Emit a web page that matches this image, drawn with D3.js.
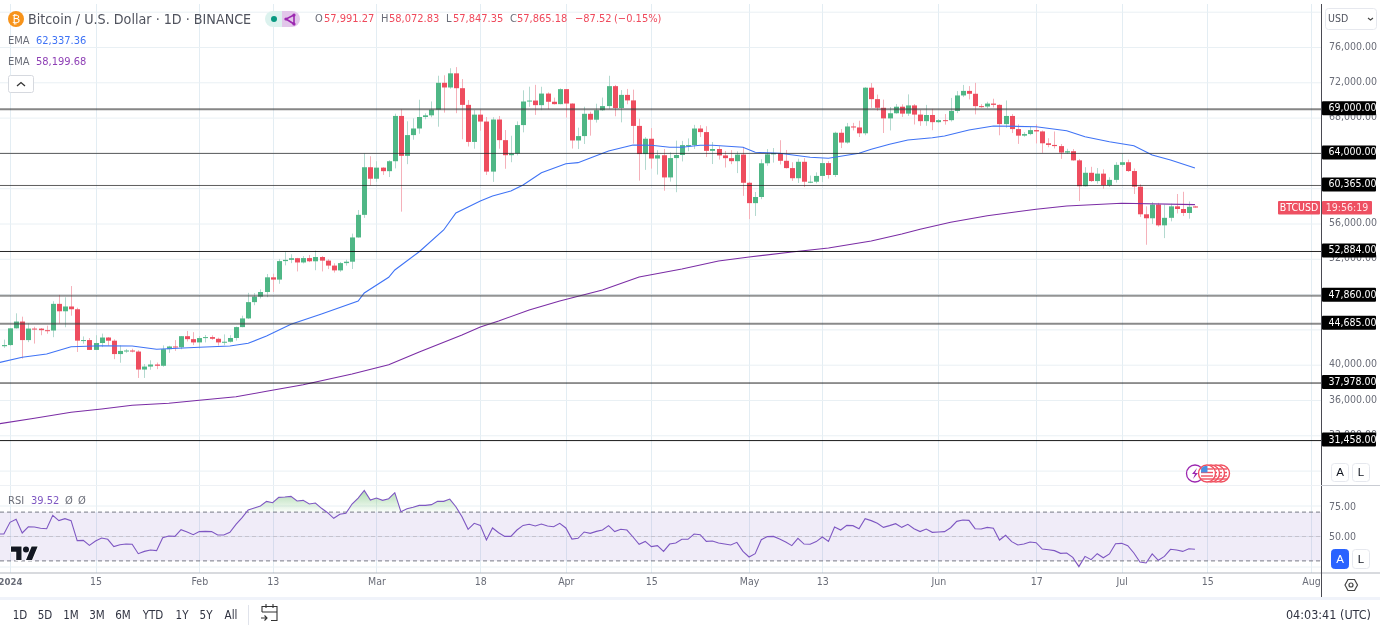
<!DOCTYPE html>
<html><head><meta charset="utf-8">
<script src="https://cdn.jsdelivr.net/npm/d3@7/dist/d3.min.js"></script>
<style>
html,body{margin:0;padding:0;background:#fff;overflow:hidden}
svg{display:block;filter:blur(.3px)}
text{font-family:"DejaVu Sans Condensed","DejaVu Sans",sans-serif;font-size:10.5px;fill:#50535e}
</style></head><body><svg id="c" width="1380" height="625"></svg>
<script>
// ---------- data (Dec 31 2023 -> Jul 13 2024, daily) ----------
const firstDay = "2023-12-31";
const opens = [42152,
42283,44179,44946,42845,44151,44145,43968,43929,46951,46110,46653,46339,42782,42847,41732,42511,43137,42776,41262,41618,41665,41545,39507,39845,40077,39934,41816,42120,42035,43288,42952,
42582,43075,43185,42992,42583,42658,43084,44318,45301,47147,47771,48293,49958,49699,51795,51938,52124,51642,52137,51774,52258,51849,51288,50744,51568,51728,54476,57037,62432,
61130,62387,61987,63113,68245,63724,66074,66823,68124,68313,68955,72000,71470,73072,71388,69499,65300,68393,67609,61937,67840,65501,63796,63990,67209,69880,69988,69469,70780,69850,69582,
71280,69649,65463,65963,68487,67820,68896,69360,71620,69146,70631,70006,67116,63924,65661,63419,63793,61277,63470,63818,64940,64941,66819,66414,64289,64498,63770,63461,63118,63866,
60672,58364,59060,62882,63892,64038,63161,62334,61187,63049,60792,60793,61448,62901,61552,66339,65231,67051,66940,66278,71446,70148,69166,67969,68549,69290,68507,69436,68398,67652,68352,
67540,67766,67765,68809,70567,71082,70757,69355,69310,69648,69500,67321,68243,66756,66011,66191,66639,66490,65146,64960,64828,64096,64245,63210,60277,61804,60864,61707,60400,61000,
62700,63000,62000,60230,57100,56650,58200,55850,56700,58000,57700,57250,57991.27];
const highs = [42899,
44184,45879,45500,44729,44357,44214,44486,47248,47972,47695,48969,46515,43257,43079,43400,43578,43198,42930,42249,41840,41870,41689,40129,40555,40300,42246,42200,42842,43305,43882,43745,
43285,43422,43381,43119,43494,43399,44380,45614,48200,48170,48592,50334,50368,52043,52816,52572,52163,52364,52488,52985,52366,52016,51548,51698,51950,54910,57588,64000,63676,
63114,62433,63231,68499,69000,67641,67980,70083,68541,69887,72800,72850,73650,73777,72419,70043,68904,68956,68124,68100,68240,66649,65999,67628,71150,71561,71769,71552,70916,70321,71366,
71288,69674,66914,69291,68725,69629,70326,72797,71758,71172,71305,71227,67931,65840,66867,64365,64499,64117,65450,65419,65700,67233,67199,67075,65297,64820,64279,64370,64228,64734,
60780,59625,63333,64494,64610,65494,64390,62995,63404,63469,61490,61850,63450,63118,66454,66752,67451,67459,67700,71515,71979,70666,70096,69250,69591,69562,70687,69591,68935,69500,69044,
67900,68460,70288,71063,71758,71625,71997,69582,69850,70195,69559,69999,68449,67294,66402,66998,67298,66600,65722,66482,65066,64526,64500,63369,62435,62480,62340,62200,61300,63000,
64000,63300,62300,60500,58000,58500,58400,58200,58300,59400,59650,58550,58072.83];
const lows = [41965,
42180,44148,40750,42613,42450,43397,43565,43175,44748,44300,45606,41500,42436,41720,41718,42050,42200,40683,40280,41400,41446,38555,38555,39484,39550,39825,41394,41620,41804,42683,42276,
41884,42584,42880,42222,42258,42574,42788,44300,45242,46800,47557,47710,48300,49225,51314,51566,50625,51529,51677,50760,50625,50888,50500,50585,51282,50901,54450,56691,60364,
60777,61561,61320,62300,57400,62779,65551,66230,67861,68094,67024,68620,71333,68555,65600,64780,64533,66565,61555,60775,64529,62260,63000,63772,66385,69280,68359,68903,69009,69540,69562,
68062,64550,64493,65064,66011,67491,68824,69043,68210,67518,69567,65104,60919,62134,62274,61600,59768,60803,59600,63090,64241,64500,65852,63589,62794,63297,62400,62781,61765,59191,
56552,56911,58811,62599,62955,62746,62285,60888,60648,60187,60630,60610,60749,61142,61320,64602,65106,66600,65857,66060,69162,68832,66312,66600,68495,68128,68250,67278,67124,67128,66630,
67428,67257,67612,68567,70383,70119,68420,69168,69102,69207,66051,66902,66304,65078,65886,66060,65130,64060,64693,64559,63379,63929,63178,58600,60239,60765,60566,60000,60200,60700,
62500,61900,59400,56800,53650,56000,55700,54400,56300,57200,56900,56600,57847.35];
const closes = [42283,
44179,44946,42845,44151,44145,43968,43929,46951,46110,46653,46339,42782,42847,41732,42511,43137,42776,41262,41618,41665,41545,39507,39845,40077,39934,41816,42120,42035,43288,42952,42582,
43075,43185,42992,42583,42658,43084,44318,45301,47147,47771,48293,49958,49699,51795,51938,52124,51642,52137,51774,52258,51849,51288,50744,51568,51728,54476,57037,62432,61130,
62387,61987,63113,68245,63724,66074,66823,68124,68313,68955,72000,71470,73072,71388,69499,65300,68393,67609,61937,67840,65501,63796,63990,67209,69880,69988,69469,70780,69850,69582,71280,
69649,65463,65963,68487,67820,68896,69360,71620,69146,70631,70006,67116,63924,65661,63419,63793,61277,63470,63818,64940,64941,66819,66414,64289,64498,63770,63461,63118,63866,60672,
58364,59060,62882,63892,64038,63161,62334,61187,63049,60792,60793,61448,62901,61552,66339,65231,67051,66940,66278,71446,70148,69166,67969,68549,69290,68507,69436,68398,67652,68352,67540,
67766,67765,68809,70567,71082,70757,69355,69310,69648,69500,67321,68243,66756,66011,66191,66639,66490,65146,64960,64828,64096,64245,63210,60277,61804,60864,61707,60400,61000,62700,
63000,62000,60230,57100,56650,58200,55850,56700,58000,57700,57250,57950,57865.18];
// EMA readings: day index from Jan 1, and value
const emaFastIdx = [-2,2,6,10,15,20,24,31,36,39,42,46,51,57,58,62,63,67,71,73,75,77,79,82,84,87,91,93,95,98,102,105,108,110,113,115,120,122,126,131,134,139,141,144,147,151,153,157,161,168,173,176,180,184,187,190,194];
const emaFastVal = [40270,40895,41270,42095,42210,42175,41800,42030,42175,42480,43310,44635,45800,47275,48180,49960,50790,52860,55320,57250,57930,58610,59170,59740,60420,61810,62830,62950,63480,64270,64950,64920,64690,64690,64920,64920,64690,64125,64010,63560,63445,64010,64465,65030,65520,65780,65970,66650,67105,67025,66570,65890,65325,64870,63820,63250,62337];
const emaSlowIdx = [-2,4,10,15,20,26,31,37,42,48,56,62,67,74,77,80,85,90,97,103,110,116,121,128,134,141,146,149,154,160,168,173,182,194];
const emaSlowVal = [33340,33980,34660,35040,35455,35680,36020,36430,37040,37790,39000,40060,41500,43420,44330,45010,46255,47275,48520,49990,50900,51810,52260,52830,53280,54070,54870,55400,56190,56940,57670,58040,58350,58199];
// RSI from Dec 30
const rsiVals = [52,52,
61.6,64.1,52.9,58,57.8,56.7,56.4,67.3,63,64.6,63,46.6,46.8,42.7,46.3,48.8,47.7,41.7,43.3,43.8,43.6,35.9,37.8,38.9,38.4,49,50.4,50.1,55.6,53.7,51.5,54,54.2,54,51.2,51.2,53.4,60,65.4,71.7,73.3,75,78.8,77.7,82.1,82.4,82.9,79.1,79.6,76.6,77.4,73.1,69.5,64.9,68.2,69,76.6,81.5,87.8,79.9,81.5,79.6,81,85.9,70.3,72.8,73.9,75.5,75.5,76.1,78.8,78.8,80.7,74.4,
66.2,55.9,60.8,59.1,47.1,57,53.1,50.1,50.1,55.3,59.1,60,58.6,60.2,58.6,58,60.8,57,47.9,48.5,53.7,52.6,54.2,55.3,58.9,54,55.9,55.3,49.6,43.6,46,41.7,42.5,37.8,43.8,44.7,47.7,47.7,52,51.5,46,46.3,44.7,43.8,43,45.2,37.8,33.2,35.9,47.4,49.9,50.1,47.9,45.5,42.5,48.5,43.8,43.6,45.8,49.6,46,57.8,55.3,59.1,58.9,56.4,64.6,63,60.8,57.5,58.9,60.5,57.5,60,56.4,54,
56.1,53.4,53.7,54,57.2,62.4,63.5,63.2,56.4,56.1,57.5,56.7,47.1,51,45.8,43,43.8,45.5,44.9,39.7,39.2,38.4,36.2,36.5,32.9,25.3,33.7,31,35.9,32.6,35.7,44.1,44.4,42.5,36.5,29.1,28.3,35.7,30.5,33.7,39.5,38.9,37.8,40,39.5];
// price levels and their line weights
const levels = [69000,64000,60365,52884,47860,44685,37978,31458];
const levelStroke = ["rgba(60,60,60,.62)","rgba(30,30,30,.72)","rgba(30,30,30,.72)","rgba(0,0,0,.85)","rgba(60,60,60,.55)","rgba(60,60,60,.6)","rgba(0,0,0,.85)","rgba(0,0,0,.9)"];
const levelWidth = [2,1,1,1,2,2,1,1];
const priceTicks = [80000,76000,72000,68000,64000,60000,56000,52000,48000,44000,40000,36000,32000,28000];
const priceLabelTicks = [76000,72000,68000,56000,52000,40000,36000,32000];
const rsiTicks = [75,50];
const rsiGrid = [75,50,25];
const rsiBands = [70,50,30];
const dateTicks = ["2024-01-01","2024-01-15","2024-02-01","2024-02-13","2024-03-01","2024-03-18","2024-04-01","2024-04-15","2024-05-01","2024-05-13","2024-06-01","2024-06-17","2024-07-01","2024-07-15","2024-08-01"];
const dateLabels = ["2024","15","Feb","13","Mar","18","Apr","15","May","13","Jun","17","Jul","15","Aug"];
const rangeButtons = ["1D","5D","1M","3M","6M","YTD","1Y","5Y","All"];
const rangeX = [20,45,71,97,123,153,182,206,231];

// ---------- scales ----------
const W=1321, UP="#4fb786", DN="#ee4d5f", UPW="#b3d9cf", DNW="#f5b1ba", PURPLE="#7e57c2";
const day=d=>new Date(d+"T00:00:00Z");
const x=d3.scaleUtc().domain([day("2024-01-01"),day("2024-08-01")]).range([10,1311]);
const y=d3.scaleLinear().domain([76000,32000]).range([47.5,435.8]);
const r=d3.scaleLinear().domain([50,75]).range([536.5,506]);
const dateOf=i=>new Date(Date.UTC(2024,0,1+i));
const svg=d3.select("#c");
const fmt=d3.format(",.2f");

const defs=svg.append("defs");
defs.append("clipPath").attr("id","plot").append("rect").attr("x",0).attr("y",4).attr("width",W).attr("height",569);
defs.append("clipPath").attr("id","above").append("rect").attr("x",0).attr("y",486).attr("width",W).attr("height",r(70)-486);
defs.append("clipPath").attr("id","below").append("rect").attr("x",0).attr("y",r(30)).attr("width",W).attr("height",20);
const g1=defs.append("linearGradient").attr("id","gUp").attr("gradientUnits","userSpaceOnUse").attr("x1",0).attr("x2",0).attr("y1",490).attr("y2",r(70));
g1.append("stop").attr("offset",0).attr("stop-color","#4caf50").attr("stop-opacity",.45);
g1.append("stop").attr("offset",1).attr("stop-color","#4caf50").attr("stop-opacity",.03);
const g2=defs.append("linearGradient").attr("id","gDn").attr("gradientUnits","userSpaceOnUse").attr("x1",0).attr("x2",0).attr("y1",r(30)).attr("y2",r(20));
g2.append("stop").attr("offset",0).attr("stop-color","#f23645").attr("stop-opacity",.02);
g2.append("stop").attr("offset",1).attr("stop-color","#f23645").attr("stop-opacity",.3);

// ---------- grid ----------
const grid=svg.append("g").attr("stroke","#e9f0f4").attr("stroke-width",1);
grid.selectAll("line.v").data(dateTicks).join("line").attr("x1",d=>Math.round(x(day(d)))+.5).attr("x2",d=>Math.round(x(day(d)))+.5).attr("y1",4).attr("y2",573).attr("stroke","#e3edf3");
grid.selectAll("line.h").data(priceTicks).join("line").attr("x1",0).attr("x2",W).attr("y1",d=>y(d)).attr("y2",d=>y(d));
grid.selectAll("line.r").data(rsiGrid).join("line").attr("x1",0).attr("x2",W).attr("y1",d=>r(d)).attr("y2",d=>r(d));
svg.append("line").attr("x1",0).attr("x2",W).attr("y1",485.5).attr("y2",485.5).attr("stroke","#eef1f5");

// ---------- candles ----------
const candles=closes.map((c,i)=>({i:i-1,o:opens[i],h:highs[i],l:lows[i],c}));
const cg=svg.append("g").attr("clip-path","url(#plot)");
const cx=d=>Math.round(x(dateOf(d.i)));
cg.selectAll("line.w").data(candles).join("line")
  .attr("x1",d=>cx(d)+.5).attr("x2",d=>cx(d)+.5).attr("y1",d=>y(d.h)).attr("y2",d=>y(d.l))
  .attr("stroke",d=>d.c>=d.o?UPW:DNW);
cg.selectAll("rect.b").data(candles).join("rect")
  .attr("x",d=>cx(d)-2).attr("width",5)
  .attr("y",d=>y(Math.max(d.o,d.c))).attr("height",d=>Math.max(1,Math.abs(y(d.o)-y(d.c))))
  .attr("fill",d=>d.c>=d.o?UP:DN);

// ---------- EMA lines ----------
const emaLine=d3.line().x(d=>x(dateOf(d[0]))).y(d=>y(d[1]));
cg.append("path").attr("d",emaLine(emaFastIdx.map((k,i)=>[k,emaFastVal[i]]))).attr("fill","none").attr("stroke","#3f73f5").attr("stroke-width",1.1);
cg.append("path").attr("d",emaLine(emaSlowIdx.map((k,i)=>[k,emaSlowVal[i]]))).attr("fill","none").attr("stroke","#7b2da5").attr("stroke-width",1.1);

// ---------- levels ----------
svg.selectAll("line.lv").data(levels).join("line").attr("x1",0).attr("x2",W)
  .attr("y1",d=>y(d)).attr("y2",d=>y(d))
  .attr("stroke",(d,i)=>levelStroke[i]).attr("stroke-width",(d,i)=>levelWidth[i]);

// ---------- RSI ----------
svg.append("rect").attr("x",0).attr("width",W).attr("y",r(70)).attr("height",r(30)-r(70)).attr("fill",PURPLE).attr("fill-opacity",.115);
svg.selectAll("line.rb").data(rsiBands).join("line").attr("x1",0).attr("x2",W).attr("y1",d=>r(d)).attr("y2",d=>r(d))
  .attr("stroke",d=>d===50?"#c5c3ce":"#787b86").attr("stroke-dasharray","4 3").attr("stroke-width",1);
const rsiData=rsiVals.map((v,i)=>[i-2,v]);
const rx=d=>x(dateOf(d[0]));
const rsiClip=svg.append("g").attr("clip-path","url(#plot)");
rsiClip.append("path").attr("clip-path","url(#above)").attr("fill","url(#gUp)").attr("d",d3.area().x(rx).y0(r(70)).y1(d=>r(d[1]))(rsiData));
rsiClip.append("path").attr("clip-path","url(#below)").attr("fill","url(#gDn)").attr("d",d3.area().x(rx).y0(r(30)).y1(d=>r(d[1]))(rsiData));
rsiClip.append("path").attr("fill","none").attr("stroke",PURPLE).attr("stroke-width",1.1).attr("d",d3.line().x(rx).y(d=>r(d[1]))(rsiData));

// ---------- frame ----------
svg.append("line").attr("x1",0).attr("x2",1380).attr("y1",573).attr("y2",573).attr("stroke","#b2b5be").attr("stroke-width",1.2);
svg.append("rect").attr("x",0).attr("y",597).attr("width",1380).attr("height",3).attr("fill","#f0f3fa");
svg.append("line").attr("x1",1321.5).attr("x2",1321.5).attr("y1",4).attr("y2",597).attr("stroke","#4a4a52");
svg.append("line").attr("x1",1321).attr("x2",1380).attr("y1",485.5).attr("y2",485.5).attr("stroke","#c9ccd3");

// ---------- price axis ----------
const axP=svg.append("g").attr("transform","translate(1329,0)")
  .call(d3.axisRight(y).tickValues(priceLabelTicks).tickSize(0).tickPadding(0).tickFormat(fmt));
axP.select(".domain").remove();
axP.selectAll("text").attr("dy","0").attr("y",-1.5).attr("dominant-baseline","middle").style("fill","#6a6d78");
// level tags
const tag=svg.append("g").selectAll("g").data(levels).join("g").attr("transform",d=>`translate(1322,${y(d)-1})`);
tag.append("rect").attr("x",0).attr("y",-7).attr("width",54).attr("height",14).attr("rx",1).attr("fill","#000");
tag.append("text").attr("x",6.5).attr("dominant-baseline","middle").style("fill","#fff").text(d=>fmt(d));

// RSI axis
const axR=svg.append("g").attr("transform","translate(1329,0)")
  .call(d3.axisRight(r).tickValues(rsiTicks).tickSize(0).tickPadding(0).tickFormat(d3.format(".2f")));
axR.select(".domain").remove();
axR.selectAll("text").attr("dy","0").attr("dominant-baseline","middle").style("fill","#6a6d78");

// countdown
const ctY=207.5;
svg.append("rect").attr("x",1278).attr("y",ctY-6.5).attr("width",42).attr("height",13.5).attr("rx",1).attr("fill","#ee5062");
svg.append("text").attr("x",1299).attr("y",ctY).attr("text-anchor","middle").attr("dominant-baseline","middle").style("fill","#fff").text("BTCUSD");
svg.append("rect").attr("x",1322).attr("y",ctY-6.5).attr("width",50).attr("height",13.5).attr("rx",1).attr("fill","#ee5062");
svg.append("text").attr("x",1347).attr("y",ctY).attr("text-anchor","middle").attr("dominant-baseline","middle").style("fill","#ffe3e6").text("19:56:19");

// ---------- date axis ----------
const axD=svg.append("g").attr("transform","translate(0,573)")
  .call(d3.axisBottom(x).tickValues(dateTicks.map(day)).tickSize(0).tickPadding(6).tickFormat((d,i)=>dateLabels[i]));
axD.select(".domain").remove();
axD.selectAll("text").style("fill","#6a6d78").style("font-size","10.5px").attr("dy","0.6em");
axD.select(".tick text").style("font-weight","bold").style("font-size","9.5px");

// ---------- header ----------
function label(xp,yp,s,fill,size,anchor){
  return svg.append("text").attr("x",xp).attr("y",yp).attr("dominant-baseline","middle").attr("text-anchor",anchor||"start")
   .style("fill",fill).style("font-size",(size||12)+"px").text(s);
}
svg.append("circle").attr("cx",16).attr("cy",19).attr("r",8).attr("fill","#f7931a");
label(16,19.5,"₿","#fff",11,"middle");
label(28,19.5,"Bitcoin / U.S. Dollar · 1D · BINANCE","#50535e",14.2);
svg.append("path").attr("d","M273 11h9v16h-9a8 8 0 0 1 0-16z").attr("fill","#dcf2ee");
svg.append("path").attr("d","M282 11h10a8 8 0 0 1 0 16h-10z").attr("fill","#e2c6ea");
svg.append("circle").attr("cx",274).attr("cy",19).attr("r",3).attr("fill","#089981");
svg.append("path").attr("d","M294 15L286 19L294 24Z").attr("fill","none").attr("stroke","#9c27b0").attr("stroke-width",1.6);
[[294,15],[286,19],[294,24]].forEach(p=>svg.append("circle").attr("cx",p[0]).attr("cy",p[1]).attr("r",1.6).attr("fill","#9c27b0"));
const DNTXT="#ef4a5c", GREY="#6a6d78";
const ohlc=[["O",315,GREY],["57,991.27",324,DNTXT],["H",381,GREY],["58,072.83",389,DNTXT],["L",446,GREY],["57,847.35",453,DNTXT],["C",510,GREY],["57,865.18",517,DNTXT],["−87.52",575,DNTXT],["(−0.15%)",614,DNTXT]];
ohlc.forEach(o=>label(o[1],19,o[0],o[2],11));
label(8,41,"EMA",GREY,11); label(36,41,"62,337.36","#3f73f5",11);
label(8,62,"EMA",GREY,11); label(36,62,"58,199.68","#8e3fb5",11);
svg.append("rect").attr("x",8.5).attr("y",75.5).attr("width",25).attr("height",17).attr("rx",2).attr("fill","#fff").attr("stroke","#d6d9df");
svg.append("path").attr("d","M17 86l4-3.5 4 3.5").attr("fill","none").attr("stroke","#333").attr("stroke-width",1.3);
label(8,501,"RSI",GREY,11); label(31,501,"39.52",PURPLE,11); label(65,501,"Ø",GREY,11); label(78,501,"Ø",GREY,11);

// TV logo
const tv=svg.append("g").attr("transform","translate(11,543.5) scale(.75)");
tv.append("path").attr("d","M14 22H7V11H0V4h14v18zM28 22h-8l7.5-18h8L28 22z").attr("fill","#131722").attr("stroke","#fff").attr("stroke-width",2).attr("paint-order","stroke");
tv.append("circle").attr("cx",20).attr("cy",8).attr("r",4).attr("fill","#131722");

// USD dropdown
svg.append("rect").attr("x",1325.5).attr("y",8.5).attr("width",51).attr("height",21).attr("rx",3).attr("fill","#fff").attr("stroke","#e6e8ee");
label(1328,19,"USD","#50535e",10.5);
svg.append("path").attr("d","M1368 18l2.5 2 2.5-2").attr("fill","none").attr("stroke","#444").attr("stroke-width",1.1);

// scale buttons
function btn(xp,yp,t,on,h){
  svg.append("rect").attr("x",xp+.5).attr("y",yp+.5).attr("width",17).attr("height",h).attr("rx",3)
   .attr("fill",on?"#2962ff":"#fff").attr("stroke",on?"#2962ff":"#e6e8ee");
  svg.append("text").attr("x",xp+9).attr("y",yp+h/2+1).attr("text-anchor","middle").attr("dominant-baseline","middle")
   .style("fill",on?"#fff":"#131722").style("font-size","11.5px").style("font-family","Liberation Sans").text(t);
}
btn(1331,463,"A",false,18); btn(1352,463,"L",false,18);
btn(1331,549,"A",true,19); btn(1352,549,"L",false,19);

// settings hex
svg.append("path").attr("d","M1345 585l3-5.5h6.5l3 5.5-3 5.5h-6.5z").attr("fill","none").attr("stroke","#444").attr("stroke-width",1.2);
svg.append("circle").attr("cx",1351).attr("cy",585).attr("r",2).attr("fill","none").attr("stroke","#444").attr("stroke-width",1.2);

// event icons
const ev=svg.append("g");
ev.append("circle").attr("cx",1195).attr("cy",473.5).attr("r",8.5).attr("fill","#fff").attr("stroke","#9c27b0").attr("stroke-width",1.3);
ev.append("path").attr("d","M1197 468l-5 6h3l-2 5 5-6h-3z").attr("fill","#9c27b0");
[1221,1216,1211,1207].forEach((cxp,i,arr)=>{
  ev.append("circle").attr("cx",cxp).attr("cy",473.5).attr("r",8.5).attr("fill","#fff").attr("stroke","#f0505f").attr("stroke-width",1.4);
  [469,472.5,476,479].forEach(sy=>ev.append("line").attr("x1",cxp-6).attr("x2",cxp+6).attr("y1",sy).attr("y2",sy).attr("stroke","#f0505f").attr("stroke-width",1.4));
  if(i===arr.length-1) ev.append("path").attr("d",`M${cxp-6} 472.5v-2a5 5 0 0 1 4-4.5h2.5v6.5z`).attr("fill","#4a90e2");
});

// ---------- bottom bar ----------
rangeButtons.forEach((b,i)=>label(rangeX[i],615,b,"#2f3240",11.5,"middle"));
svg.append("line").attr("x1",248.5).attr("x2",248.5).attr("y1",605).attr("y2",625).attr("stroke","#e0e3eb");
svg.append("path").attr("d","M262 612v-5.5h15v14h-6M262 612h15M266 604v4M273 604v4M261 618h6m-2.5-2.5l2.5 2.5-2.5 2.5").attr("fill","none").attr("stroke","#333").attr("stroke-width",1.1);
label(1371,615,"04:03:41 (UTC)","#2f3240",12.5,"end");
</script></body></html>
